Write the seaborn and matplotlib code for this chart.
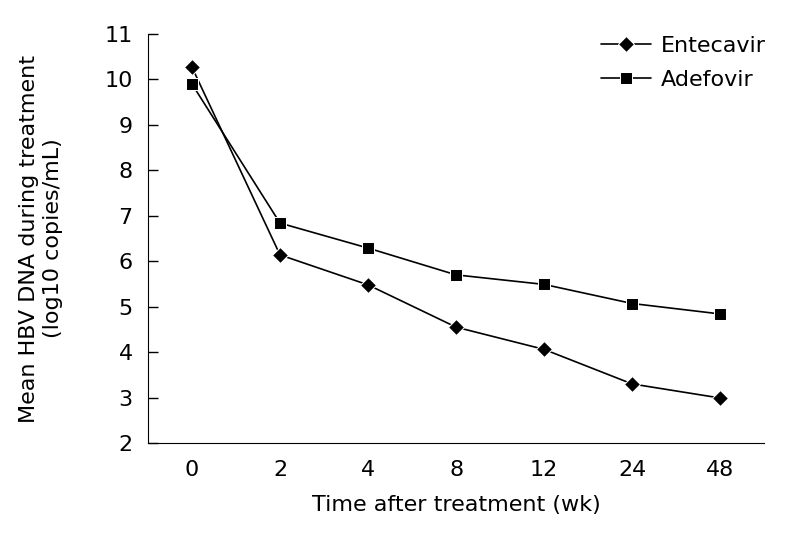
import pandas as pd
import matplotlib
matplotlib.use("Agg")
import matplotlib.pyplot as plt
import seaborn as sns

# Data
weeks = ["0", "2", "4", "8", "12", "24", "48"]
entecavir = [10.27, 6.14, 5.48, 4.55, 4.06, 3.30, 2.99]
adefovir = [9.90, 6.84, 6.29, 5.70, 5.49, 5.07, 4.84]

df = pd.DataFrame({
    "week": weeks * 2,
    "value": entecavir + adefovir,
    "drug": ["Entecavir"] * len(weeks) + ["Adefovir"] * len(weeks),
})

sns.set_style("ticks")
plt.rcParams["font.family"] = ["DejaVu Sans"]
plt.rcParams["text.color"] = "black"
plt.rcParams["axes.labelcolor"] = "black"
plt.rcParams["xtick.color"] = "black"
plt.rcParams["ytick.color"] = "black"
plt.rcParams["axes.edgecolor"] = "black"

fig = plt.figure(figsize=(7.87, 5.36), dpi=100)
ax = fig.add_axes([0.188, 0.1735, 0.783, 0.763])

sns.lineplot(data=df, x="week", y="value", hue="drug", style="drug",
             markers={"Entecavir": "D", "Adefovir": "s"}, dashes=False,
             palette={"Entecavir": "black", "Adefovir": "black"},
             markersize=8, linewidth=1.2, sort=False, ax=ax)

ax.set_xlim(-0.5, 6.5)
ax.set_ylim(2, 11)
ax.set_yticks(range(2, 12))
ax.tick_params(axis="y", direction="in", length=7, width=1, labelsize=16, pad=11)
ax.tick_params(axis="x", length=0, labelsize=16, pad=12)
ax.set_xlabel("Time after treatment (wk)", fontsize=16, labelpad=11)
ax.set_ylabel("Mean HBV DNA during treatment\n(log10 copies/mL)", fontsize=16,
              labelpad=30)
for s in ["top", "right"]:
    ax.spines[s].set_visible(False)

leg = ax.legend(frameon=False, fontsize=16, loc="upper right",
                bbox_to_anchor=(1.035, 1.045), handlelength=2.25,
                handletextpad=0.45, labelspacing=0.65)

plt.savefig("out.png", dpi=100)
